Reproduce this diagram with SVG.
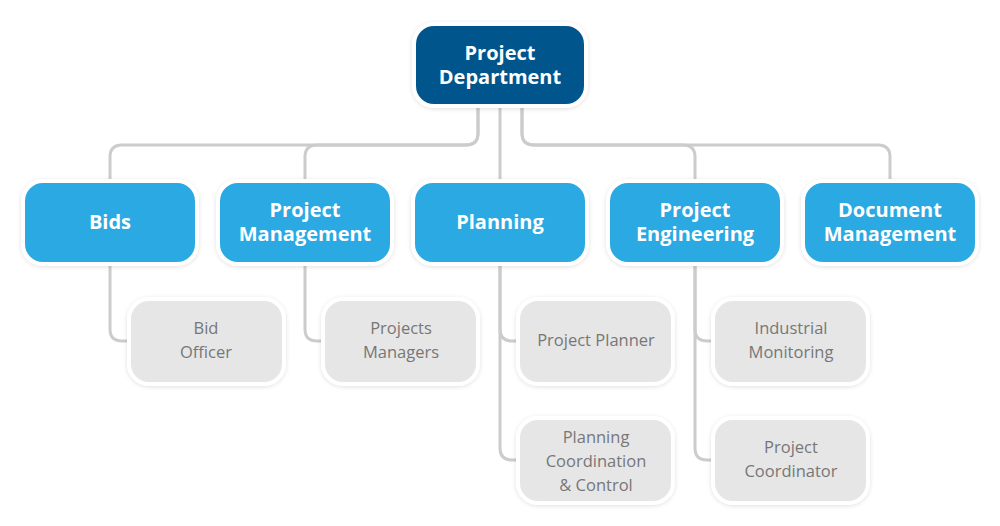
<svg xmlns="http://www.w3.org/2000/svg" width="1000" height="526" viewBox="0 0 1000 526">
<defs>
<filter id="sh" x="-20%" y="-20%" width="140%" height="140%"><feDropShadow dx="0" dy="1" stdDeviation="2" flood-color="#000" flood-opacity="0.12"/></filter>
</defs>
<style>
.n{stroke:#fff;stroke-width:4;filter:url(#sh)}
.top{fill:#03558d}
.mid{fill:#29a9e2}
.leaf{fill:#e6e6e6}
.tw{font-family:"Open Sans",sans-serif;font-weight:bold;font-size:20px;fill:#fff;text-anchor:middle}
.tg{font-family:"Open Sans",sans-serif;font-size:16.5px;fill:#777;text-anchor:middle}
.c{fill:none;stroke:#cccccc;stroke-width:3}
</style>
<rect width="1000" height="526" fill="#fff"/>
<g id="connectors">
<path class="c" d="M478 107 V133 Q478 145 466 145 H122 Q110 145 110 157 V182"/>
<path class="c" d="M478 107 V133 Q478 145 466 145 H317 Q305 145 305 157 V182"/>
<path class="c" d="M500 107 V182"/>
<path class="c" d="M522 107 V133 Q522 145 534 145 H683 Q695 145 695 157 V182"/>
<path class="c" d="M522 107 V133 Q522 145 534 145 H878 Q890 145 890 157 V182"/>
<path class="c" d="M110 264 V329 Q110 341 122 341 H130"/>
<path class="c" d="M305 264 V329 Q305 341 317 341 H324"/>
<path class="c" d="M500 264 V329 Q500 341 512 341 H519"/>
<path class="c" d="M500 264 V448 Q500 460 512 460 H519"/>
<path class="c" d="M695 264 V329 Q695 341 707 341 H714"/>
<path class="c" d="M695 264 V448 Q695 460 707 460 H714"/>
</g>
<g id="n-dept"><rect class="n top" x="414" y="24" width="172" height="82" rx="20"/><text class="tw" x="500" y="60">Project</text><text class="tw" x="500" y="84">Department</text></g>
<g id="n-bids"><rect class="n mid" x="23" y="181" width="174" height="83" rx="20"/><text class="tw" x="110" y="229">Bids</text></g>
<g id="n-pm"><rect class="n mid" x="218" y="181" width="174" height="83" rx="20"/><text class="tw" x="305" y="217">Project</text><text class="tw" x="305" y="241">Management</text></g>
<g id="n-plan"><rect class="n mid" x="413" y="181" width="174" height="83" rx="20"/><text class="tw" x="500" y="229">Planning</text></g>
<g id="n-pe"><rect class="n mid" x="608" y="181" width="174" height="83" rx="20"/><text class="tw" x="695" y="217">Project</text><text class="tw" x="695" y="241">Engineering</text></g>
<g id="n-dm"><rect class="n mid" x="803" y="181" width="174" height="83" rx="20"/><text class="tw" x="890" y="217">Document</text><text class="tw" x="890" y="241">Management</text></g>
<g id="n-bo"><rect class="n leaf" x="129" y="299" width="155" height="85" rx="20"/><text class="tg" x="206" y="334">Bid</text><text class="tg" x="206" y="358">Officer</text></g>
<g id="n-pms"><rect class="n leaf" x="323" y="299" width="155" height="85" rx="20"/><text class="tg" x="401" y="334">Projects</text><text class="tg" x="401" y="358">Managers</text></g>
<g id="n-pp"><rect class="n leaf" x="518" y="299" width="155" height="85" rx="20"/><text class="tg" x="596" y="346">Project Planner</text></g>
<g id="n-pcc"><rect class="n leaf" x="518" y="418" width="155" height="85" rx="20"/><text class="tg" x="596" y="443">Planning</text><text class="tg" x="596" y="467">Coordination</text><text class="tg" x="596" y="491">&amp; Control</text></g>
<g id="n-im"><rect class="n leaf" x="713" y="299" width="155" height="85" rx="20"/><text class="tg" x="791" y="334">Industrial</text><text class="tg" x="791" y="358">Monitoring</text></g>
<g id="n-pc"><rect class="n leaf" x="713" y="418" width="155" height="85" rx="20"/><text class="tg" x="791" y="453">Project</text><text class="tg" x="791" y="477">Coordinator</text></g>
</svg>
